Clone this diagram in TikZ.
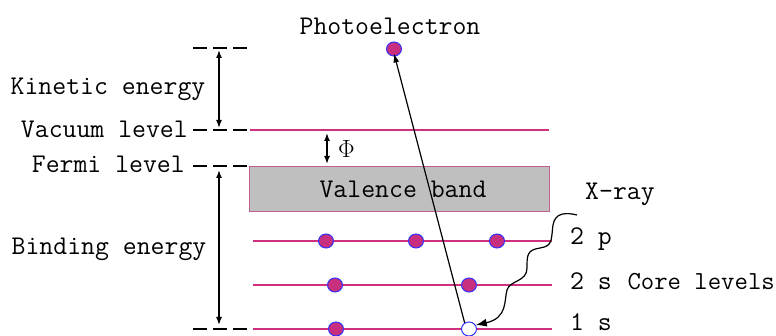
\documentclass[tikz,border=0pt]{standalone}
\usepackage{fontspec}
\usetikzlibrary{arrows.meta,shapes.geometric}
\definecolor{lvl}{HTML}{D0307F}
\definecolor{dotfill}{HTML}{C8307F}
\definecolor{dotedge}{HTML}{3030FF}
\definecolor{vbedge}{HTML}{C06090}
\tikzset{
  lbl/.style={font=\ttfamily\fontsize{27pt}{29pt}\selectfont, inner sep=0pt},
  lblsm/.style={font=\ttfamily\fontsize{26pt}{28pt}\selectfont, inner sep=0pt},
  level/.style={draw=lvl, line width=2.5pt},
  dashmark/.style={draw=black, line width=1.5pt, dash pattern=on 14pt off 6pt},
  elec/.style={ellipse, minimum width=15pt, minimum height=14pt, inner sep=0pt, draw=dotedge, fill=dotfill, line width=1pt},
  hole/.style={ellipse, minimum width=15pt, minimum height=14pt, inner sep=0pt, draw=dotedge, fill=white, line width=1pt},
  dimarrow/.style={draw=black, line width=1.5pt, {Latex[length=8pt,width=6pt]}-{Latex[length=8pt,width=6pt]}},
}
\begin{document}
\begin{tikzpicture}[x=1pt,y=-1pt]
\useasboundingbox (0,0) rectangle (776,336);
% dashed reference marks
\coordinate (d0a) at (193,48);  \coordinate (d0b) at (247,48);
\coordinate (d1a) at (193,130); \coordinate (d1b) at (247,130);
\coordinate (d2a) at (193,166); \coordinate (d2b) at (247,166);
\coordinate (d3a) at (193,329); \coordinate (d3b) at (247,329);
\draw[dashmark] (d0a) -- (d0b);
\draw[dashmark] (d1a) -- (d1b);
\draw[dashmark] (d2a) -- (d2b);
\draw[dashmark] (d3a) -- (d3b);
% levels
\coordinate (vacL) at (250,130); \coordinate (vacR) at (549,130);
\draw[level] (vacL) -- (vacR);
\node[draw=vbedge, fill=black!25, line width=1pt, minimum width=300pt, minimum height=45pt, inner sep=0pt, anchor=north west] (vb) at (249,166) {};
\node[lbl, anchor=base] (vbt) at (403,198) {Valence band};
\coordinate (p2L) at (253,241); \coordinate (p2R) at (552,241);
\coordinate (s2L) at (253,285); \coordinate (s2R) at (552,285);
\coordinate (s1L) at (253,329); \coordinate (s1R) at (552,329);
\draw[level] (p2L) -- (p2R);
\draw[level] (s2L) -- (s2R);
\draw[level] (s1L) -- (s1R);
% electrons
\node[elec] (e1) at (326,241) {};
\node[elec] (e2) at (416,241) {};
\node[elec] (e3) at (497,241) {};
\node[elec] (e4) at (335,285) {};
\node[elec] (e5) at (469,285) {};
\node[elec] (e6) at (336,329) {};
\node[hole] (h) at (469,329) {};
\node[elec] (pe) at (394,49) {};
% labels
\node[lbl, anchor=base] (tpe) at (390,35) {Photoelectron};
\node[lbl, anchor=base] (tke) at (108,95) {Kinetic energy};
\node[lbl, anchor=base east] (tvac) at (188,138) {Vacuum level};
\node[lbl, anchor=base east] (tfer) at (185,173) {Fermi level};
\node[lbl, anchor=base] (tbe) at (109,255) {Binding energy};
\node[lbl, anchor=base west] (tphi) at (338,158) {$\Phi$};
\node[lbl, anchor=base west] (txr) at (585,200) {X-ray};
\node[lbl, anchor=base west] (t2p) at (570,245) {2 p};
\node[lbl, anchor=base west] (t2s) at (570,290) {2 s};
\node[lblsm, anchor=base east] (tcore) at (775,290) {Core levels};
\node[lbl, anchor=base west] (t1s) at (570,331) {1 s};
% dimension arrows
\coordinate (ka) at (219,50);  \coordinate (kb) at (219,128);
\coordinate (ba) at (219,170); \coordinate (bb) at (219,325);
\coordinate (fa) at (327,133); \coordinate (fb) at (327,164);
\draw[dimarrow] (ka) -- (kb);
\draw[dimarrow] (ba) -- (bb);
\draw[dimarrow] (fa) -- (fb);
% photoelectron path
\draw[line width=1.2pt, -{Latex[length=9pt,width=6pt]}] (h.125) -- ([yshift=3pt]pe.south);
% x-ray
\coordinate (xs) at (577,215);
\draw[line width=1.2pt, -{Latex[length=11pt,width=8pt]}]
  (xs) .. controls (565,212) and (555,213) .. (553,225)
       .. controls (551,240) and (553,246) .. (540,248)
       .. controls (527,250) and (527,255) .. (527,268)
       .. controls (527,282) and (510,280) .. (507,290)
       .. controls (504,300) and (508,318) .. (h.30);
\end{tikzpicture}
\end{document}
